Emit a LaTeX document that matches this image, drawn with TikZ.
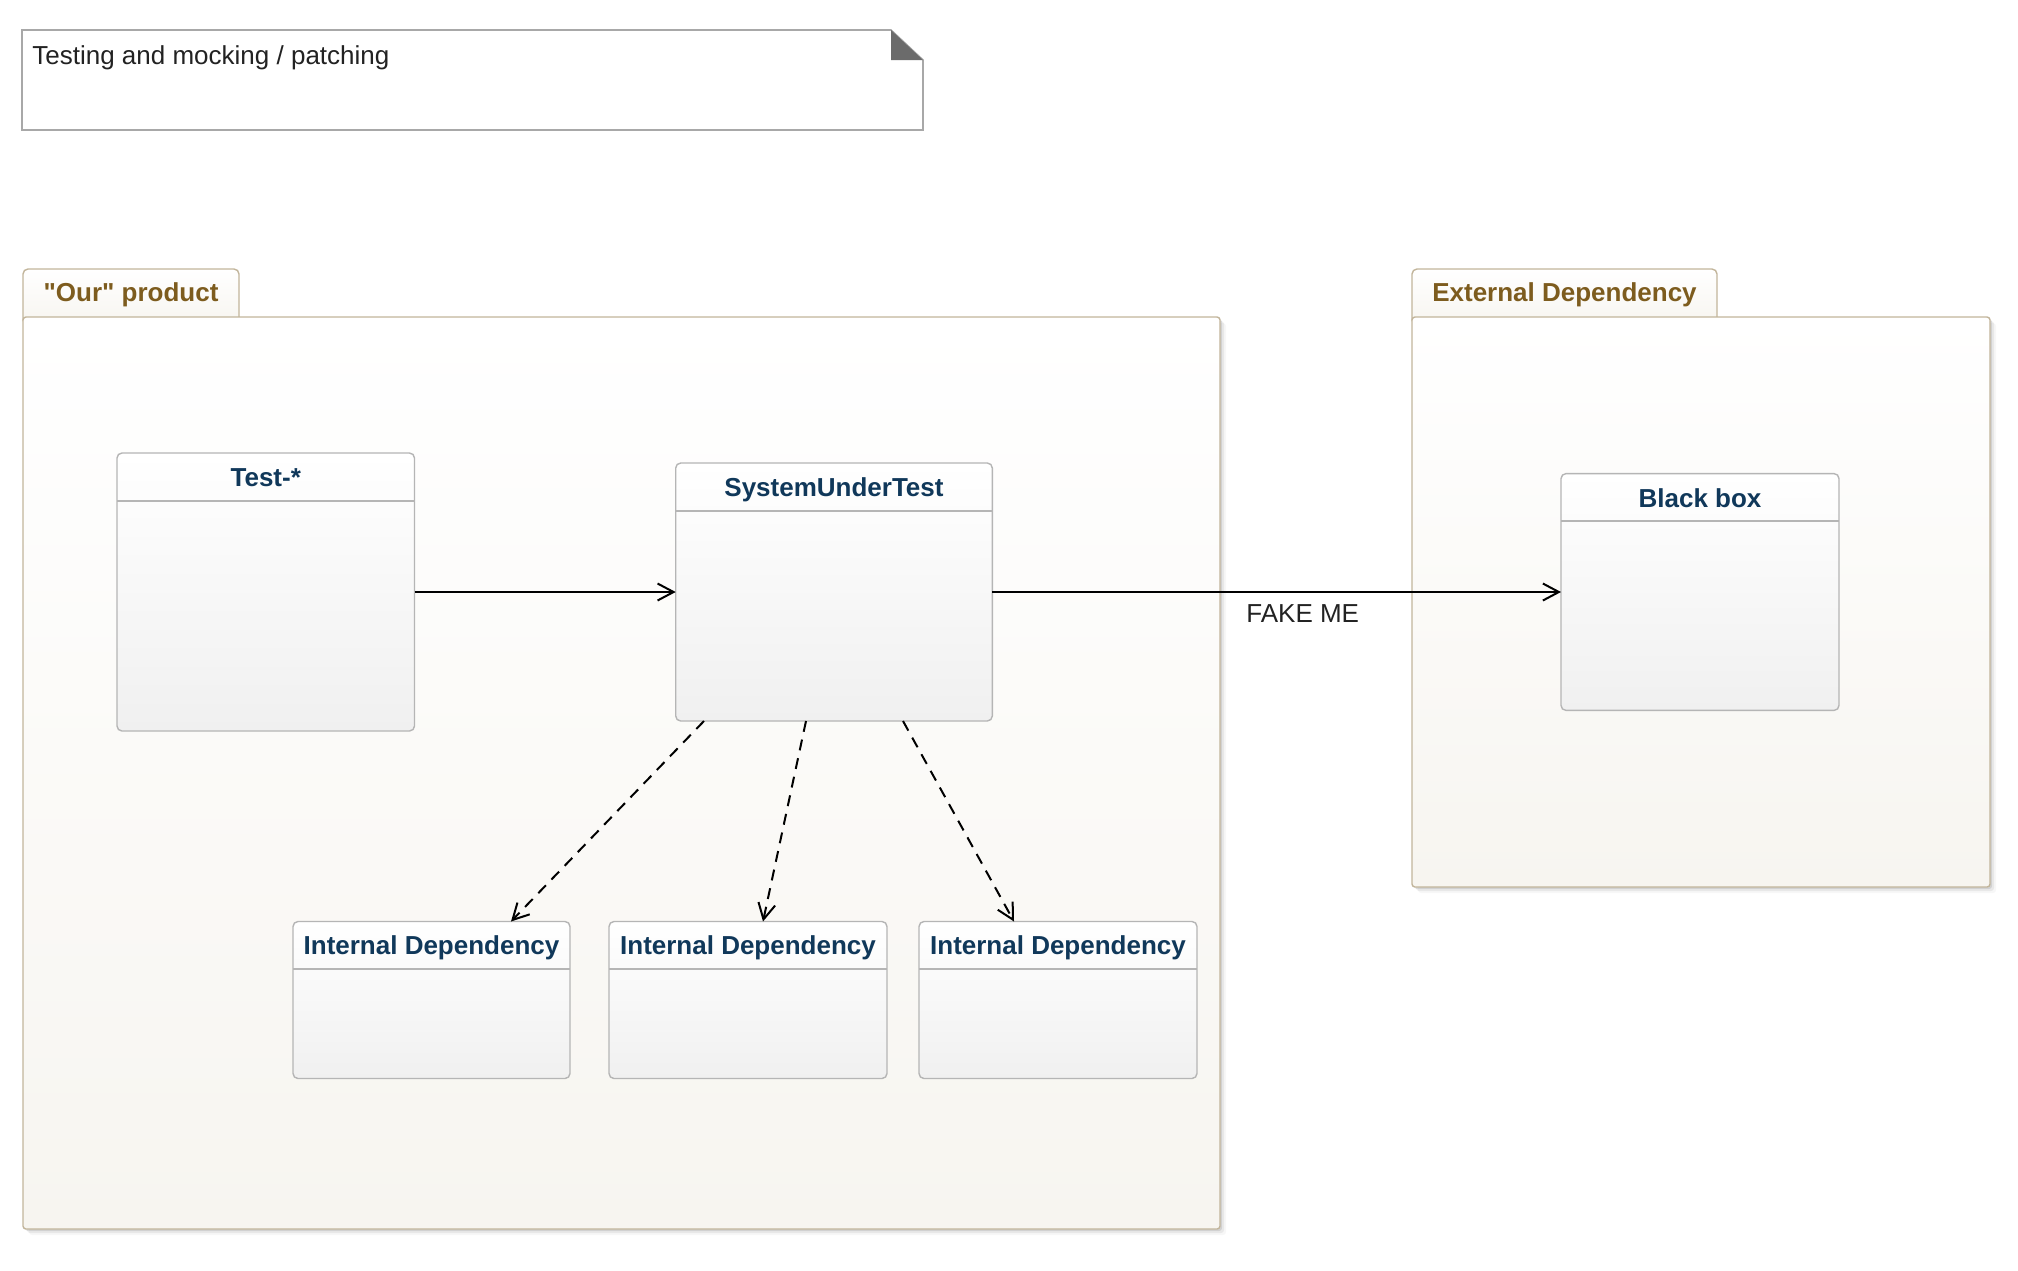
\documentclass[tikz,border=0pt]{standalone}
\usepackage{fontspec}
\setmainfont{Liberation Sans}[Ligatures=TeXOff]
\usetikzlibrary{arrows.meta,fit,shadows}

\definecolor{pkgline}{HTML}{C2B59B}
\definecolor{pkgtitle}{HTML}{7D5C1E}
\definecolor{pkgbot}{HTML}{F7F5F0}
\definecolor{clsline}{HTML}{B5B5B5}
\definecolor{clsname}{HTML}{10385A}
\definecolor{clsbot}{HTML}{F0F0F0}
\definecolor{noteline}{HTML}{A8A8A8}
\definecolor{notefold}{HTML}{6B6B6B}
\definecolor{textdark}{HTML}{222222}

\tikzset{
  pkgbody/.style={draw=pkgline, line width=0.7pt, rounded corners=1.5pt,
    inner sep=0pt, outer sep=0pt, top color=white, bottom color=pkgbot,
    drop shadow={shadow xshift=1pt, shadow yshift=-1pt, opacity=.10, fill=black},
    drop shadow={shadow xshift=2pt, shadow yshift=-2pt, opacity=.06, fill=black},
    drop shadow={shadow xshift=3pt, shadow yshift=-3pt, opacity=.03, fill=black}},
  pkgtab/.style={draw=pkgline, line width=0.7pt, rounded corners=2.5pt,
    inner sep=0pt, outer sep=0pt, top color=white, bottom color=pkgbot},
  pkgname/.style={font=\fontsize{13}{15}\selectfont\bfseries,
    text=pkgtitle, anchor=base, inner sep=0pt},
  classbox/.style={draw=clsline, line width=0.7pt, rounded corners=2.5pt,
    inner sep=0pt, outer sep=0pt, top color=white, bottom color=clsbot},
  classname/.style={font=\fontsize{13}{15}\selectfont\bfseries,
    text=clsname, anchor=base, inner sep=0pt},
  classrule/.style={draw=clsline, line width=0.7pt},
  assoc/.style={draw=black, line width=1pt,
    -{Straight Barb[length=8pt,width=8.5pt]}},
  depend/.style={assoc, dash pattern=on 5.5pt off 4pt},
  edgelabel/.style={font=\fontsize{13}{15}\selectfont, text=textdark, inner sep=0pt},
}

\begin{document}
\begin{tikzpicture}[x=0.5pt, y=-0.5pt]
\useasboundingbox (0,0) rectangle (2018,1270);

% title note with folded corner
\draw[draw=noteline, line width=0.8pt, fill=white]
  (22,30) -- (891,30) -- (923,60) -- (923,130) -- (22,130) -- cycle;
\fill[notefold] (891,30) -- (891,60) -- (923,60) -- cycle;
\node[edgelabel, anchor=base west] (note) at (32,64) {Testing and mocking / patching};

% package: "Our" product
\node[pkgtab, fit={(23,269) (239,325)}] (ourtab) {};
\node[pkgbody, fit={(23,317) (1220,1229)}] (ourbody) {};
\node[pkgname] (ourname) at (131,301) {"Our" product};

% package: External Dependency
\node[pkgtab, fit={(1412,269) (1717,325)}] (exttab) {};
\node[pkgbody, fit={(1412,317) (1990,887)}] (extbody) {};
\node[pkgname] (extname) at (1564.5,301) {External Dependency};

% classes
\node[classbox, fit={(117,453) (414.5,731)}] (test) {};
\draw[classrule] (117,501) -- (414.5,501);
\node[classname] (testname) at (265.75,486) {Test-*};

\node[classbox, fit={(675.7,463) (992.3,721)}] (sut) {};
\draw[classrule] (675.7,511) -- (992.3,511);
\node[classname] (sutname) at (834,496) {SystemUnderTest};

\node[classbox, fit={(1561,473.6) (1839,710.4)}] (bb) {};
\draw[classrule] (1561,521) -- (1839,521);
\node[classname] (bbname) at (1700,507) {Black box};

\node[classbox, fit={(293,921.5) (570,1078.5)}] (idA) {};
\draw[classrule] (293,969) -- (570,969);
\node[classname] (idAname) at (431.5,954) {Internal Dependency};

\node[classbox, fit={(609,921.5) (887,1078.5)}] (idB) {};
\draw[classrule] (609,969) -- (887,969);
\node[classname] (idBname) at (748,954) {Internal Dependency};

\node[classbox, fit={(919,921.5) (1197,1078.5)}] (idC) {};
\draw[classrule] (919,969) -- (1197,969);
\node[classname] (idCname) at (1058,954) {Internal Dependency};

% connectors
\draw[assoc] (test.east) -- (sut.west);
\draw[assoc] (sut.east) -- node[edgelabel, pos=0.445, anchor=base west, yshift=-15pt] (fakeme) {FAKE ME} (bb.west);

\draw[depend] ([xshift=-65pt]sut.south) -- ([xshift=39.75pt]idA.north);
\draw[depend] ([xshift=-14pt]sut.south) -- ([xshift=7.5pt]idB.north);
\draw[depend] ([xshift=34.5pt]sut.south) -- ([xshift=-22pt]idC.north);
\end{tikzpicture}
\end{document}
